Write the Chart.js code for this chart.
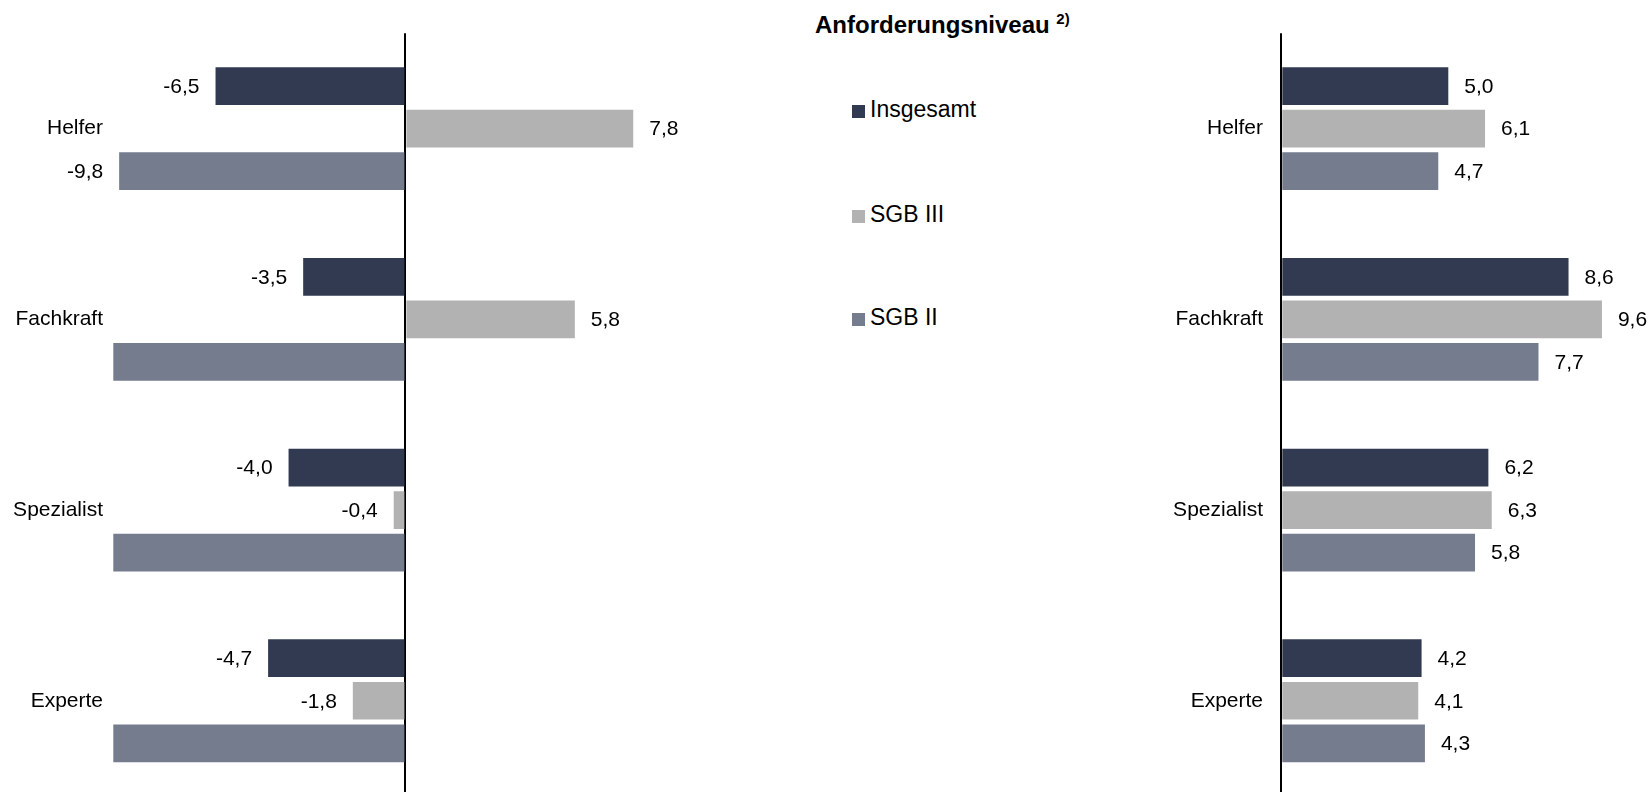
<!DOCTYPE html>
<html lang="de">
<head>
<meta charset="utf-8">
<title>Anforderungsniveau</title>
<script src="https://cdn.jsdelivr.net/npm/chart.js@4"></script>
<style>
	html, body { margin: 0; padding: 0; background: #fff; overflow: hidden; }
	body { width: 1652px; height: 792px; position: relative; font-family: "Liberation Sans", Arial, sans-serif; color: #000; }
	canvas { position: absolute; top: 0; }
	#graphique-gauche { left: 0; }
	#graphique-droite { left: 1100px; }
	.titre { position: absolute; left: 815px; top: 13px; font-size: 24px; line-height: 24px; font-weight: bold; white-space: nowrap; }
	.titre sup { font-size: 15px; vertical-align: 9px; line-height: 0; }
	.legende { position: absolute; left: 852px; top: 0; }
	.legende div { position: absolute; left: 0; height: 24px; white-space: nowrap; font-size: 23px; line-height: 24px; }
	.legende span { display: inline-block; width: 13px; height: 13px; margin-right: 5px; vertical-align: -1px; }
</style>
</head>
<body>
<div class="titre">Anforderungsniveau <sup>2)</sup></div>
<div class="legende" id="legende"></div>
<canvas id="graphique-gauche" width="760" height="800"></canvas>
<canvas id="graphique-droite" width="552" height="800"></canvas>
<script>
// Catégories (de haut en bas)
const categories = ["Helfer", "Fachkraft", "Spezialist", "Experte"];
const series = ["Insgesamt", "SGB III", "SGB II"];
const couleurs = ["#313a50", "#b2b2b2", "#747c8e"];

// Graphique de gauche : les barres SGB II au-delà de -10 sont coupées
const gaucheInsgesamt = [-6.5, -3.5, -4.0, -4.7];
const gaucheSgb3 = [7.8, 5.8, -0.4, -1.8];
const gaucheSgb2 = [-9.8, -12.6, -10.8, -10.9];

// Graphique de droite
const droiteInsgesamt = [5.0, 8.6, 6.2, 4.2];
const droiteSgb3 = [6.1, 9.6, 6.3, 4.1];
const droiteSgb2 = [4.7, 7.7, 5.8, 4.3];

const police = '"Liberation Sans", Arial, sans-serif';

// Légende commune, au centre de la page
const legende = document.querySelector("#legende");
const hauteursLegende = [97, 202, 305];
for (let i = 0; i < series.length; i++) {
	const ligne = document.createElement("div");
	ligne.style.top = hauteursLegende[i] + "px";
	ligne.innerHTML = '<span style="background:' + couleurs[i] + '"></span>' + series[i];
	legende.appendChild(ligne);
}

// Étiquettes de valeurs à côté des barres (format allemand avec virgule)
const etiquettesValeurs = {
	id: "etiquettesValeurs",
	afterDatasetsDraw(chart) {
		const ctx = chart.ctx;
		const echelle = chart.scales.x;
		ctx.save();
		ctx.font = "21px " + police;
		ctx.fillStyle = "#000";
		ctx.textBaseline = "middle";
		chart.data.datasets.forEach((dataset, i) => {
			chart.getDatasetMeta(i).data.forEach((barre, j) => {
				const valeur = dataset.data[j];
				// pas d'étiquette pour une barre coupée
				if (valeur < echelle.min || valeur > echelle.max) return;
				const texte = valeur.toFixed(1).replace(".", ",");
				if (valeur >= 0) {
					ctx.textAlign = "left";
					ctx.fillText(texte, barre.x + 16, barre.y + 1);
				} else {
					ctx.textAlign = "right";
					ctx.fillText(texte, barre.x - 16, barre.y + 1);
				}
			});
		});
		ctx.restore();
	}
};

function creerDatasets(valeurs) {
	return valeurs.map((data, i) => ({
		label: series[i],
		data: data,
		backgroundColor: couleurs[i],
		categoryPercentage: 0.669,
		barPercentage: 0.887,
	}));
}

function creerConfig(valeurs, min, max, largeurAxe, ecartEtiquettes, margeDroite) {
	return {
		type: "bar",
		data: {
			labels: categories,
			datasets: creerDatasets(valeurs),
		},
		options: {
			indexAxis: "y",
			responsive: false,
			animation: false,
			layout: { padding: { top: 33.3, bottom: 3.9, left: 0, right: margeDroite } },
			plugins: {
				legend: { display: false },
				tooltip: { enabled: false },
			},
			scales: {
				x: {
					min: min,
					max: max,
					z: 1,
					// seule la ligne du zéro est tracée
					afterBuildTicks: (axe) => { axe.ticks = [{ value: 0 }]; },
					afterFit: (axe) => { axe.height = 0; },
					ticks: { display: false },
					border: { display: false },
					grid: { color: "#000", lineWidth: 2, drawTicks: false },
				},
				y: {
					afterFit: (axe) => {
						axe.width = largeurAxe;
						// pas de marge verticale ajoutée par les étiquettes
						axe.paddingTop = 0;
						axe.paddingBottom = 0;
					},
					ticks: {
						color: "#000",
						padding: ecartEtiquettes,
						font: { family: police, size: 21 },
					},
					border: { display: false },
					grid: { display: false, drawTicks: false },
				},
			},
		},
		plugins: [etiquettesValeurs],
	};
}

const graphiqueGauche = new Chart(
	document.querySelector("#graphique-gauche"),
	creerConfig([gaucheInsgesamt, gaucheSgb3, gaucheSgb2], -10, 10, 113.3, 10.3, 62.5),
);

const graphiqueDroite = new Chart(
	document.querySelector("#graphique-droite"),
	creerConfig([droiteInsgesamt, droiteSgb3, droiteSgb2], 0, 11, 181.3, 18.3, 3.3),
);
</script>
</body>
</html>
